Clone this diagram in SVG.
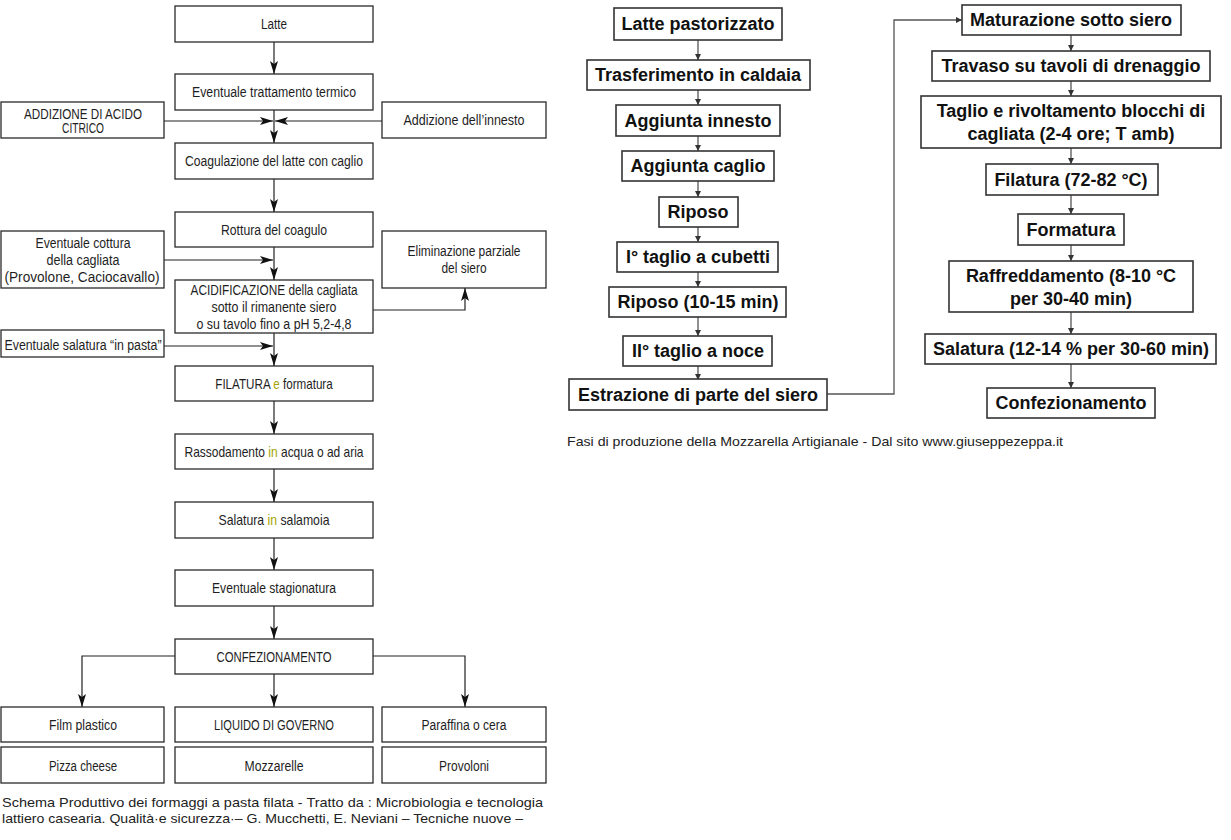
<svg xmlns="http://www.w3.org/2000/svg" width="1231" height="840" viewBox="0 0 1231 840">
<defs>
<style>
.lb{fill:#fff;stroke:#2a2a2a;stroke-width:1.3}
.lt{font-family:'Liberation Sans',Arial,sans-serif;font-size:14px;fill:#1e1e1e;text-anchor:middle}
.hl{fill:#a3a300}
.lc{fill:none;stroke:#222;stroke-width:1.2}
.rb{fill:#fff;stroke:#333;stroke-width:1.6}
.rt{font-family:'Liberation Sans',Arial,sans-serif;font-weight:bold;font-size:18px;fill:#111;text-anchor:middle}
.rc{fill:none;stroke:#555;stroke-width:1.3}
.cap{font-family:'Liberation Sans',Arial,sans-serif;font-size:13px;fill:#222}
</style>
<marker id="al" markerUnits="userSpaceOnUse" markerWidth="14" markerHeight="10" refX="13" refY="4" orient="auto">
<path d="M0,0 L13,4 L0,8 L3,4 z" fill="#111"/>
</marker>
<marker id="ar" markerUnits="userSpaceOnUse" markerWidth="8" markerHeight="8" refX="6" refY="3" orient="auto">
<path d="M0,0 L6,3 L0,6 z" fill="#333"/>
</marker>
</defs>

<!-- Left diagram connectors -->
<g id="left-connectors">
<path class="lc" d="M274,42 V74" marker-end="url(#al)"/>
<path class="lc" d="M274,110 V143" marker-end="url(#al)"/>
<path class="lc" d="M164,121 H273" marker-end="url(#al)"/>
<path class="lc" d="M382,121 H275" marker-end="url(#al)"/>
<path class="lc" d="M274,179 V212" marker-end="url(#al)"/>
<path class="lc" d="M274,247 V280" marker-end="url(#al)"/>
<path class="lc" d="M164,260 H273" marker-end="url(#al)"/>
<path class="lc" d="M373,310 H465 V288" marker-end="url(#al)"/>
<path class="lc" d="M274,333 V366" marker-end="url(#al)"/>
<path class="lc" d="M164,346 H273" marker-end="url(#al)"/>
<path class="lc" d="M274,401 V434" marker-end="url(#al)"/>
<path class="lc" d="M274,469 V502" marker-end="url(#al)"/>
<path class="lc" d="M274,538 V570" marker-end="url(#al)"/>
<path class="lc" d="M274,606 V639" marker-end="url(#al)"/>
<path class="lc" d="M175,656 H82 V707" marker-end="url(#al)"/>
<path class="lc" d="M274,674 V707" marker-end="url(#al)"/>
<path class="lc" d="M373,656 H465 V707" marker-end="url(#al)"/>
</g>

<!-- Left diagram nodes -->
<g id="l-latte"><rect class="lb" x="175" y="6" width="198" height="36"/><text class="lt" x="274" y="29" textLength="26" lengthAdjust="spacingAndGlyphs">Latte</text></g>
<g id="l-trattamento"><rect class="lb" x="175" y="74" width="198" height="36"/><text class="lt" x="274" y="97" textLength="164" lengthAdjust="spacingAndGlyphs">Eventuale trattamento termico</text></g>
<g id="l-acido"><rect class="lb" x="1" y="102" width="163" height="36"/><text class="lt" x="83" y="119" textLength="118" lengthAdjust="spacingAndGlyphs">ADDIZIONE DI ACIDO</text><text class="lt" x="83" y="133" textLength="42" lengthAdjust="spacingAndGlyphs">CITRICO</text></g>
<g id="l-innesto"><rect class="lb" x="382" y="102" width="164" height="36"/><text class="lt" x="464" y="125" textLength="121" lengthAdjust="spacingAndGlyphs">Addizione dell’innesto</text></g>
<g id="l-coagulazione"><rect class="lb" x="175" y="143" width="198" height="36"/><text class="lt" x="274" y="166" textLength="178" lengthAdjust="spacingAndGlyphs">Coagulazione del latte con caglio</text></g>
<g id="l-rottura"><rect class="lb" x="175" y="212" width="198" height="35"/><text class="lt" x="274" y="235" textLength="106" lengthAdjust="spacingAndGlyphs">Rottura del coagulo</text></g>
<g id="l-cottura"><rect class="lb" x="1" y="231" width="163" height="57"/><text class="lt" x="83" y="248" textLength="95" lengthAdjust="spacingAndGlyphs">Eventuale cottura</text><text class="lt" x="83" y="265" textLength="73" lengthAdjust="spacingAndGlyphs">della cagliata</text><text class="lt" x="82" y="282" textLength="155" lengthAdjust="spacingAndGlyphs">(Provolone, Caciocavallo)</text></g>
<g id="l-eliminazione"><rect class="lb" x="382" y="231" width="164" height="57"/><text class="lt" x="464" y="256" textLength="113" lengthAdjust="spacingAndGlyphs">Eliminazione parziale</text><text class="lt" x="464" y="273" textLength="45" lengthAdjust="spacingAndGlyphs">del siero</text></g>
<g id="l-acidificazione"><rect class="lb" x="175" y="280" width="198" height="53"/><text class="lt" x="274" y="295" textLength="167" lengthAdjust="spacingAndGlyphs">ACIDIFICAZIONE della cagliata</text><text class="lt" x="274" y="312" textLength="125" lengthAdjust="spacingAndGlyphs">sotto il rimanente siero</text><text class="lt" x="274" y="329" textLength="155" lengthAdjust="spacingAndGlyphs">o su tavolo fino a pH 5,2-4,8</text></g>
<g id="l-salatura-pasta"><rect class="lb" x="1" y="330" width="163" height="27"/><text class="lt" x="83" y="350" textLength="157" lengthAdjust="spacingAndGlyphs">Eventuale salatura “in pasta”</text></g>
<g id="l-filatura"><rect class="lb" x="175" y="366" width="198" height="35"/><text class="lt" transform="translate(274,389) scale(0.832,1)" x="0" y="0">FILATURA <tspan class="hl">e</tspan> formatura</text></g>
<g id="l-rassodamento"><rect class="lb" x="175" y="434" width="198" height="35"/><text class="lt" transform="translate(274,457) scale(0.856,1)" x="0" y="0">Rassodamento <tspan class="hl">in</tspan> acqua o ad aria</text></g>
<g id="l-salatura"><rect class="lb" x="175" y="502" width="198" height="36"/><text class="lt" transform="translate(274,525) scale(0.875,1)" x="0" y="0">Salatura <tspan class="hl">in</tspan> salamoia</text></g>
<g id="l-stagionatura"><rect class="lb" x="175" y="570" width="198" height="36"/><text class="lt" x="274" y="593" textLength="124" lengthAdjust="spacingAndGlyphs">Eventuale stagionatura</text></g>
<g id="l-confezionamento"><rect class="lb" x="175" y="639" width="198" height="35"/><text class="lt" x="274" y="662" textLength="115" lengthAdjust="spacingAndGlyphs">CONFEZIONAMENTO</text></g>
<g id="l-film"><rect class="lb" x="1" y="707" width="163" height="35"/><text class="lt" x="83" y="730" textLength="68" lengthAdjust="spacingAndGlyphs">Film plastico</text></g>
<g id="l-liquido"><rect class="lb" x="175" y="707" width="198" height="35"/><text class="lt" x="274" y="730" textLength="120" lengthAdjust="spacingAndGlyphs">LIQUIDO DI GOVERNO</text></g>
<g id="l-paraffina"><rect class="lb" x="382" y="707" width="164" height="35"/><text class="lt" x="464" y="730" textLength="85" lengthAdjust="spacingAndGlyphs">Paraffina o cera</text></g>
<g id="l-pizza"><rect class="lb" x="1" y="747" width="163" height="36"/><text class="lt" x="83" y="771" textLength="68" lengthAdjust="spacingAndGlyphs">Pizza cheese</text></g>
<g id="l-mozzarelle"><rect class="lb" x="175" y="747" width="198" height="36"/><text class="lt" x="274" y="771" textLength="59" lengthAdjust="spacingAndGlyphs">Mozzarelle</text></g>
<g id="l-provoloni"><rect class="lb" x="382" y="747" width="164" height="36"/><text class="lt" x="464" y="771" textLength="50" lengthAdjust="spacingAndGlyphs">Provoloni</text></g>

<g id="left-caption">
<text class="cap" x="2" y="807" textLength="541" lengthAdjust="spacingAndGlyphs">Schema Produttivo dei formaggi a pasta filata - Tratto da : Microbiologia e tecnologia</text>
<text class="cap" x="2" y="823" textLength="521" lengthAdjust="spacingAndGlyphs">lattiero casearia. Qualità·e sicurezza·– G. Mucchetti, E. Neviani – Tecniche nuove –</text>
</g>

<!-- Right diagram connectors -->
<g id="right-connectors">
<path class="rc" d="M698,40 V60" marker-end="url(#ar)"/>
<path class="rc" d="M698,90 V105" marker-end="url(#ar)"/>
<path class="rc" d="M698,136 V151" marker-end="url(#ar)"/>
<path class="rc" d="M698,181 V197" marker-end="url(#ar)"/>
<path class="rc" d="M698,227 V242" marker-end="url(#ar)"/>
<path class="rc" d="M698,272 V287" marker-end="url(#ar)"/>
<path class="rc" d="M698,317 V336" marker-end="url(#ar)"/>
<path class="rc" d="M698,366 V380" marker-end="url(#ar)"/>
<path class="rc" d="M827,394 H894 V20 H962" marker-end="url(#ar)"/>
<path class="rc" d="M1071,35 V51" marker-end="url(#ar)"/>
<path class="rc" d="M1071,81 V96" marker-end="url(#ar)"/>
<path class="rc" d="M1071,148 V164" marker-end="url(#ar)"/>
<path class="rc" d="M1071,195 V214" marker-end="url(#ar)"/>
<path class="rc" d="M1071,245 V261" marker-end="url(#ar)"/>
<path class="rc" d="M1071,312 V334" marker-end="url(#ar)"/>
<path class="rc" d="M1071,364 V388" marker-end="url(#ar)"/>
</g>

<!-- Right diagram nodes -->
<g id="r-latte"><rect class="rb" x="614" y="8" width="168" height="32"/><text class="rt" x="698" y="30">Latte pastorizzato</text></g>
<g id="r-trasferimento"><rect class="rb" x="587" y="60" width="223" height="30"/><text class="rt" x="698" y="81">Trasferimento in caldaia</text></g>
<g id="r-innesto"><rect class="rb" x="616" y="105" width="164" height="31"/><text class="rt" x="698" y="127">Aggiunta innesto</text></g>
<g id="r-caglio"><rect class="rb" x="622" y="151" width="152" height="30"/><text class="rt" x="698" y="172">Aggiunta caglio</text></g>
<g id="r-riposo"><rect class="rb" x="659" y="197" width="79" height="30"/><text class="rt" x="698" y="218">Riposo</text></g>
<g id="r-taglio1"><rect class="rb" x="617" y="242" width="161" height="30"/><text class="rt" x="698" y="263">I° taglio a cubetti</text></g>
<g id="r-riposo2"><rect class="rb" x="609" y="287" width="177" height="30"/><text class="rt" x="698" y="308">Riposo (10-15 min)</text></g>
<g id="r-taglio2"><rect class="rb" x="623" y="336" width="149" height="30"/><text class="rt" x="698" y="357">II° taglio a noce</text></g>
<g id="r-estrazione"><rect class="rb" x="569" y="379" width="258" height="31"/><text class="rt" x="698" y="401">Estrazione di parte del siero</text></g>
<g id="r-maturazione"><rect class="rb" x="962" y="5" width="219" height="30"/><text class="rt" x="1071" y="26">Maturazione sotto siero</text></g>
<g id="r-travaso"><rect class="rb" x="932" y="51" width="278" height="30"/><text class="rt" x="1071" y="72">Travaso su tavoli di drenaggio</text></g>
<g id="r-taglio"><rect class="rb" x="921" y="96" width="300" height="52"/><text class="rt" x="1071" y="117">Taglio e rivoltamento blocchi di</text><text class="rt" x="1071" y="140">cagliata (2-4 ore; T amb)</text></g>
<g id="r-filatura"><rect class="rb" x="986" y="164" width="172" height="31"/><text class="rt" x="1071" y="186">Filatura (72-82 °C)</text></g>
<g id="r-formatura"><rect class="rb" x="1018" y="214" width="106" height="31"/><text class="rt" x="1071" y="236">Formatura</text></g>
<g id="r-raffreddamento"><rect class="rb" x="949" y="261" width="244" height="51"/><text class="rt" x="1071" y="282">Raffreddamento (8-10 °C</text><text class="rt" x="1071" y="305">per 30-40 min)</text></g>
<g id="r-salatura"><rect class="rb" x="925" y="334" width="291" height="30"/><text class="rt" x="1071" y="355">Salatura (12-14 % per 30-60 min)</text></g>
<g id="r-confezionamento"><rect class="rb" x="987" y="388" width="168" height="30"/><text class="rt" x="1071" y="409">Confezionamento</text></g>

<g id="right-caption">
<text class="cap" x="567" y="446" textLength="496" lengthAdjust="spacingAndGlyphs">Fasi di produzione della Mozzarella Artigianale - Dal sito www.giuseppezeppa.it</text>
</g>
</svg>
